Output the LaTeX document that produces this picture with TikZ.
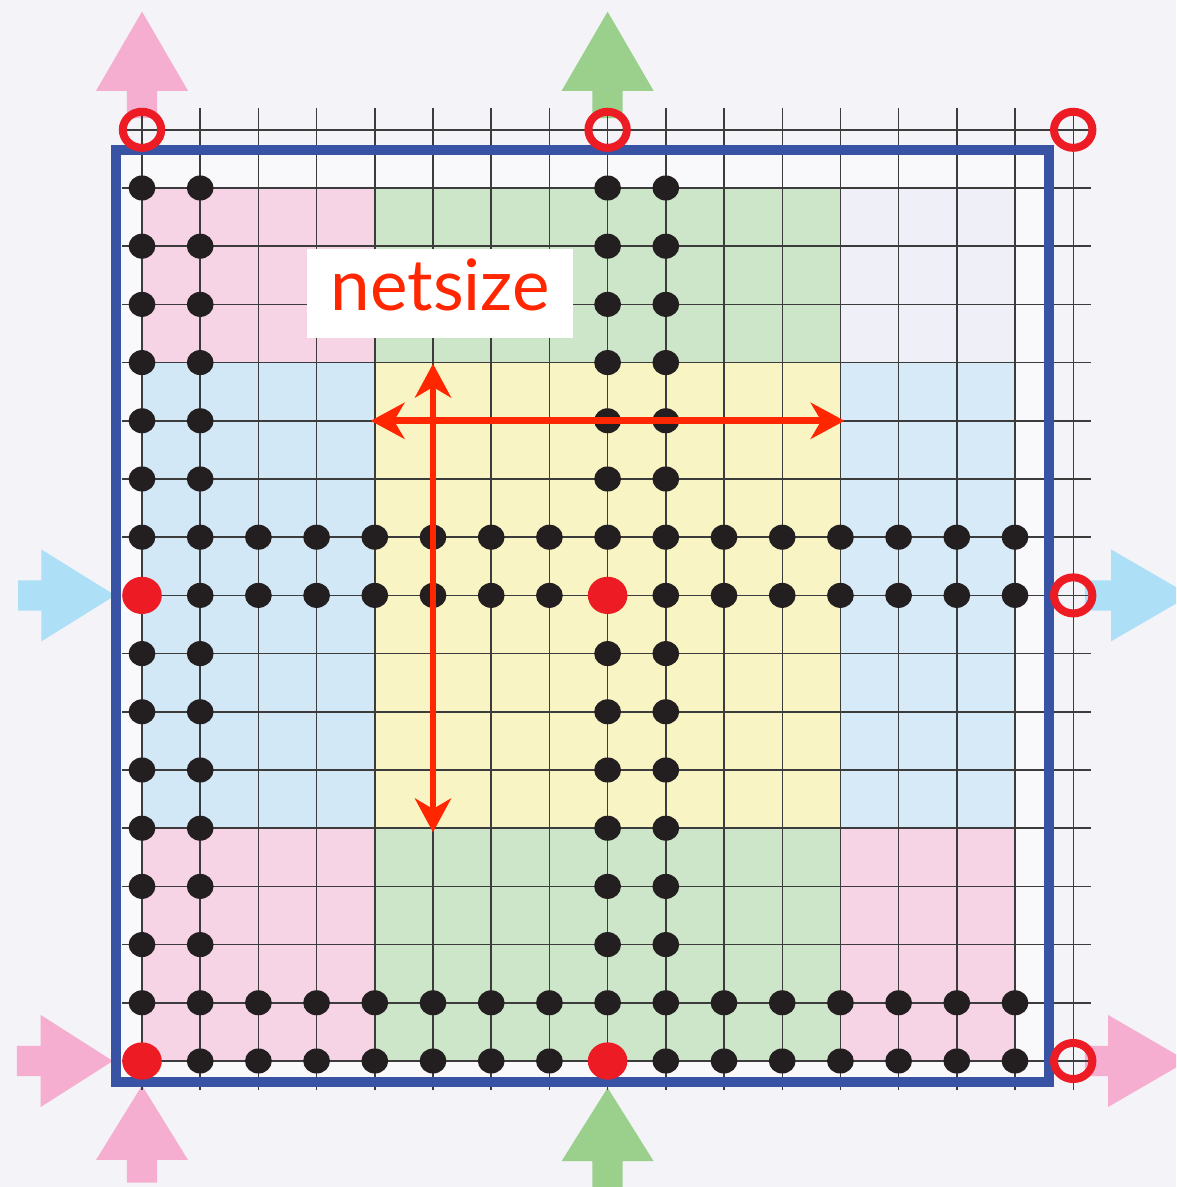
\documentclass[tikz,border=0pt]{standalone}
\usepackage{tikz}
\usepackage{xcolor}
\usepackage{fontspec}
\usetikzlibrary{arrows.meta}
\newfontfamily\labelfont{Lato}
\definecolor{bgpaper}{RGB}{243,243,248}
\definecolor{inside}{RGB}{249,249,252}
\definecolor{lavender}{RGB}{239,239,247}
\definecolor{cellpink}{RGB}{246,212,230}
\definecolor{cellgreen}{RGB}{205,229,200}
\definecolor{cellblue}{RGB}{211,232,246}
\definecolor{cellyellow}{RGB}{248,244,196}
\definecolor{arrowpink}{RGB}{245,173,208}
\definecolor{arrowgreen}{RGB}{155,207,140}
\definecolor{arrowblue}{RGB}{173,224,247}
\definecolor{borderblue}{RGB}{57,83,164}
\definecolor{gridgray}{RGB}{60,60,60}
\definecolor{dotblack}{RGB}{35,31,32}
\definecolor{dotred}{RGB}{237,28,36}
\definecolor{netred}{RGB}{255,38,0}

\begin{document}
\begin{tikzpicture}[x=1cm, y=1cm,
  cellline/.style={gridgray, line width=0.7pt},
  node dot/.style={fill=dotblack},
  port dot/.style={fill=dotred},
  port ring/.style={draw=dotred, line width=3.9pt},
  netarrow/.style={netred, line width=3.4pt,
    {Stealth[length=0.58cm, width=0.62cm, inset=0.18cm]}-{Stealth[length=0.58cm, width=0.62cm, inset=0.18cm]}},
  netbox/.style={fill=white, inner sep=0pt, minimum width=4.57cm, minimum height=1.53cm,
    text height=0.6cm, text depth=0pt, text=netred, font=\labelfont\fontsize{34.7}{40}\selectfont}]

  % Page and clip
  \useasboundingbox (-2.44,-2.165) rectangle (17.77,18.23);
  \clip (-2.44,-2.165) rectangle (17.77,18.23);
  \fill[bgpaper] (-2.44,-2.165) rectangle (17.77,18.23);
  \fill[inside] (-0.455,-0.36) rectangle (15.58,15.65);
  \fill[lavender] (12,12) rectangle (15,15);

  % Coloured blocks
  \fill[cellpink]   (0,12) rectangle (4,15);
  \fill[cellgreen]  (4,12) rectangle (12,15);
  \fill[cellblue]   (0,4) rectangle (4,12);
  \fill[cellyellow] (4,4) rectangle (12,12);
  \fill[cellblue!90!white] (12,4) rectangle (15,12);
  \fill[cellpink]   (0,0) rectangle (4,4);
  \fill[cellgreen]  (4,0) rectangle (12,4);
  \fill[cellpink]   (12,0) rectangle (15,4);

  % Block arrows (ports)
  \def\shaft{0.26}
  \def\head{0.79}
  \def\headlen{1.36}
  \fill[arrowpink]  (-\shaft,16.2) -- (-\shaft,16.67) -- (-\head,16.67) -- (0,18.03)
    -- (\head,16.67) -- (\shaft,16.67) -- (\shaft,16.2) -- cycle;
  \fill[arrowgreen] (8-\shaft,16.2) -- (8-\shaft,16.67) -- (8-\head,16.67) -- (8,18.03)
    -- (8+\head,16.67) -- (8+\shaft,16.67) -- (8+\shaft,16.2) -- cycle;
  \fill[arrowpink]  (-\shaft,-2.09) -- (-\shaft,-1.7) -- (-\head,-1.7) -- (0,-0.42)
    -- (\head,-1.7) -- (\shaft,-1.7) -- (\shaft,-2.09) -- cycle;
  \fill[arrowgreen] (8-\shaft,-2.3) -- (8-\shaft,-1.72) -- (8-\head,-1.72) -- (8,-0.46)
    -- (8+\head,-1.72) -- (8+\shaft,-1.72) -- (8+\shaft,-2.3) -- cycle;
  \fill[arrowblue]  (-2.13,8-\shaft) -- (-1.73,8-\shaft) -- (-1.73,8-\head) -- (-0.46,8)
    -- (-1.73,8+\head) -- (-1.73,8+\shaft) -- (-2.13,8+\shaft) -- cycle;
  \fill[arrowpink]  (-2.15,-\shaft) -- (-1.74,-\shaft) -- (-1.74,-\head) -- (-0.5,0)
    -- (-1.74,\head) -- (-1.74,\shaft) -- (-2.15,\shaft) -- cycle;
  \fill[arrowblue]  (16.2,8-\shaft) -- (16.65,8-\shaft) -- (16.65,8-\head) -- (16.65+\headlen,8)
    -- (16.65,8+\head) -- (16.65,8+\shaft) -- (16.2,8+\shaft) -- cycle;
  \fill[arrowpink]  (16.2,-\shaft) -- (16.6,-\shaft) -- (16.6,-\head) -- (16.6+\headlen,0)
    -- (16.6,\head) -- (16.6,\shaft) -- (16.2,\shaft) -- cycle;

  % Grid
  \foreach \i in {0,...,16} {
    \draw[cellline] (\i,-0.5) -- (\i,16.37);
    \draw[cellline] (-0.34,\i) -- (16.3,\i);
  }

  % Border
  \draw[borderblue, line width=4.9pt] (-0.455,-0.36) rectangle (15.58,15.65);

  % Nodes of the net
  \foreach \i in {0,...,15} {
    \foreach \j in {0,...,15} {
      \pgfmathtruncatemacro{\a}{mod(\i,8)}
      \pgfmathtruncatemacro{\b}{mod(\j,8)}
      \ifnum\a<2
        \ifnum\b=0 \ifnum\a=0 \else \fill[node dot] (\i,\j) ellipse (0.23 and 0.215); \fi
        \else \fill[node dot] (\i,\j) ellipse (0.23 and 0.215); \fi
      \else
        \ifnum\b<2 \fill[node dot] (\i,\j) ellipse (0.23 and 0.215); \fi
      \fi
    }
  }

  % Ports
  \foreach \i/\j in {0/0, 8/0, 0/8, 8/8}
    \fill[port dot] (\i,\j) ellipse (0.34 and 0.32);
  \foreach \i/\j in {0/16, 8/16, 16/16, 16/8, 16/0}
    \draw[port ring] (\i,\j) ellipse (0.33 and 0.31);

  % Netsize label and arrows
  \node[netbox] (netsize) at (5.125,13.19) {netsize};
  \coordinate (hleft) at (3.93,11);
  \coordinate (hright) at (12.07,11);
  \coordinate (vtop) at (5,11.98);
  \coordinate (vbot) at (5,3.93);
  \draw[netarrow] (hleft) -- (hright);
  \draw[netarrow] (vtop) -- (vbot);

\end{tikzpicture}
\end{document}
